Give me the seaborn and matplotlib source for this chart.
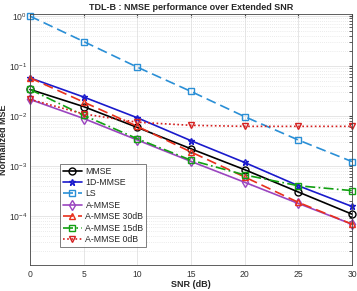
import numpy as np
import pandas as pd
import matplotlib
matplotlib.use("Agg")
import matplotlib.pyplot as plt
from matplotlib.ticker import LogLocator, NullFormatter
import seaborn as sns

# values
snr = [0, 5, 10, 15, 20, 25, 30]
mmse = [0.034, 0.0154, 0.0059, 0.0022, 0.00084, 0.0003, 0.000108]
mmse_1d = [0.058, 0.024, 0.0092, 0.0032, 0.00117, 0.0004, 0.000154]
ls = [1.0, 0.31, 0.095, 0.031, 0.0097, 0.0033, 0.00122]
a_mmse = [0.0215, 0.0089, 0.0033, 0.00123, 0.00047, 0.000177, 0.000068]
a_mmse_30 = [0.058, 0.019, 0.0062, 0.0019, 0.0006, 0.000186, 0.000068]
a_mmse_15 = [0.034, 0.0103, 0.0035, 0.0013, 0.00066, 0.0004, 0.00032]
a_mmse_0 = [0.0215, 0.011, 0.0075, 0.0065, 0.0062, 0.0062, 0.0062]

names = ["MMSE", "1D-MMSE", "LS", "A-MMSE", "A-MMSE 30dB", "A-MMSE 15dB", "A-MMSE 0dB"]
series = [mmse, mmse_1d, ls, a_mmse, a_mmse_30, a_mmse_15, a_mmse_0]

df = pd.concat([pd.DataFrame({"SNR": snr, "NMSE": v, "method": n}) for n, v in zip(names, series)])

sns.set_style("white")
plt.rcParams['font.family'] = ['Liberation Sans', 'DejaVu Sans']

# MATLAB-ish styles
styles = {
    "MMSE": dict(color="black", ls="-", marker="o"),
    "1D-MMSE": dict(color="#1a1acc", ls="-", marker="*"),
    "LS": dict(color="#2a8fd6", ls=(0, (6, 3)), marker="s"),
    "A-MMSE": dict(color="#9b45c0", ls="-", marker="d"),
    "A-MMSE 30dB": dict(color="#e8301c", ls=(0, (6, 3)), marker="^"),
    "A-MMSE 15dB": dict(color="#12a012", ls=(0, (6, 2, 1, 2)), marker="s"),
    "A-MMSE 0dB": dict(color="#d42020", ls=(0, (1, 1.5)), marker="v"),
}

fig, ax = plt.subplots(figsize=(3.57, 2.91), dpi=100)
fig.subplots_adjust(left=0.084, right=0.986, bottom=0.089, top=0.953)

for n in names:
    st = styles[n]
    sns.lineplot(data=df[df.method == n], x="SNR", y="NMSE", ax=ax, label=n,
                 color=st["color"], linestyle=st["ls"], marker=st["marker"],
                 markersize=5, markerfacecolor="none", markeredgecolor=st["color"],
                 markeredgewidth=1.0, linewidth=1.2, clip_on=False)

ax.set_yscale("log")
ax.set_xlim(0, 30)
ax.set_ylim(1.03e-5, 1.12)
ax.set_xticks([0, 5, 10, 15, 20, 25, 30])
ax.yaxis.set_major_locator(LogLocator(base=10, numticks=10))
ax.yaxis.set_minor_locator(LogLocator(base=10, subs=np.arange(2, 10), numticks=10))
ax.yaxis.set_minor_formatter(NullFormatter())
ax.grid(True, which="major", color="#e2e2e2", linewidth=0.6)
ax.grid(True, which="minor", axis="y", color="#d8d8d8", linestyle=(0, (1, 2)), linewidth=0.5)
ax.tick_params(axis="both", which="both", direction="in", labelsize=6.2, length=2,
               top=True, right=True, color="#444444", labelcolor="#333333")
ax.tick_params(axis="x", pad=3.5)
ax.tick_params(axis="y", pad=2)
for s in ax.spines.values():
    s.set_color("#444444")
    s.set_linewidth(0.6)

ax.set_title("TDL-B : NMSE performance over Extended SNR", fontsize=6.5, fontweight="bold", pad=3)
ax.set_xlabel("SNR (dB)", fontsize=6.5, fontweight="bold", labelpad=1)
ax.set_ylabel("Normalized MSE", fontsize=6.5, fontweight="bold")
ax.yaxis.set_label_coords(-0.068, 0.5)

leg = ax.legend(loc="lower left", bbox_to_anchor=(0.08, 0.055), fontsize=6.3,
                frameon=True, fancybox=False, edgecolor="#444444",
                handlelength=2.2, handletextpad=0.4, labelspacing=0.28, borderpad=0.3)
leg.get_frame().set_linewidth(0.6)

fig.savefig("out.png", dpi=100)
